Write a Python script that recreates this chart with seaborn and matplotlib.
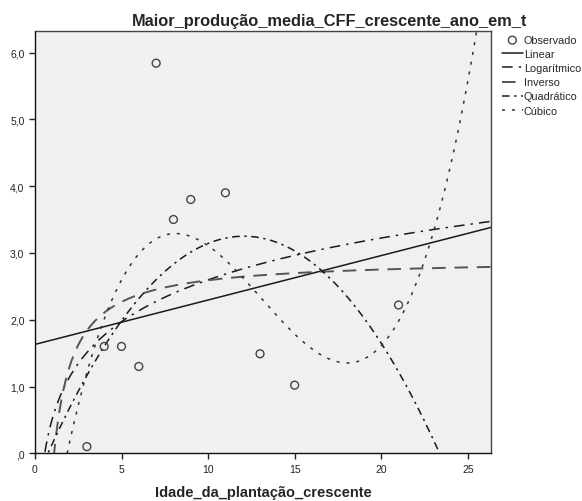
import numpy as np
import pandas as pd
import seaborn as sns
import matplotlib.pyplot as plt

# observed points
idade = [3, 4, 5, 6, 7, 8, 9, 11, 13, 15, 21]
producao = [0.10, 1.60, 1.60, 1.30, 5.84, 3.50, 3.80, 3.90, 1.49, 1.02, 2.22]

# fitted model coefficients
coef_linear = [1.63, 0.0665]            # b0 + b1*x
coef_log = [0.515, 0.904]               # b0 + b1*ln(x)
coef_inverso = [2.913, -3.23]           # b0 + b1/x
coef_quad = [-0.446, 0.6129, -0.02541]  # b0 + b1*x + b2*x^2
coef_cubico = [-2.738, 1.7471, -0.15604, 0.003978]

x_ticks = [0, 5, 10, 15, 20, 25]
y_ticks = [0, 1, 2, 3, 4, 5, 6]
y_tick_labels = [',0', '1,0', '2,0', '3,0', '4,0', '5,0', '6,0']

df = pd.DataFrame({'x': idade, 'y': producao})

xs = np.linspace(0.05, 26.4, 800)
curvas = {
    'Linear': coef_linear[0] + coef_linear[1] * xs,
    'Logarítmico': coef_log[0] + coef_log[1] * np.log(xs),
    'Inverso': coef_inverso[0] + coef_inverso[1] / xs,
    'Quadrático': np.polyval(coef_quad[::-1], xs),
    'Cúbico': np.polyval(coef_cubico[::-1], xs),
}
estilos = {
    'Linear': dict(color='#1a1a1a', lw=1.1, linestyle='-'),
    'Logarítmico': dict(color='#1a1a1a', lw=1.1, linestyle=(0, (7, 4, 1.5, 4))),
    'Inverso': dict(color='#555555', lw=1.4, linestyle=(0, (7, 4.5))),
    'Quadrático': dict(color='#1a1a1a', lw=1.1, linestyle=(0, (5, 3, 1.5, 3))),
    'Cúbico': dict(color='#333333', lw=1.1, linestyle=(0, (2, 4.5))),
}

sns.set_style('white')
plt.rcParams['font.family'] = ['Liberation Sans', 'DejaVu Sans']

fig = plt.figure(figsize=(5.82, 5.02), dpi=100)
ax = fig.add_axes([0.060, 0.095, 0.784, 0.841])
ax.set_facecolor('#f0f0f0')

sns.scatterplot(data=df, x='x', y='y', ax=ax, marker='o', s=32, facecolor='none',
                edgecolor='#444444', linewidth=1.0, label='Observado', zorder=5)
for nome, yv in curvas.items():
    sns.lineplot(x=xs, y=yv, ax=ax, label=nome, **estilos[nome])

ax.set_xlim(0, 26.35)
ax.set_ylim(0, 6.32)
ax.set_xticks(x_ticks)
ax.set_yticks(y_ticks)
ax.set_yticklabels(y_tick_labels)
ax.tick_params(direction='out', length=4, width=1, labelsize=7.5, colors='#222222',
               left=True, bottom=True)
for s in ax.spines.values():
    s.set_color('#444444')
    s.set_linewidth(1)
ax.spines['left'].set_color('#111111')
ax.spines['bottom'].set_color('#111111')

ax.set_xlabel('Idade_da_plantação_crescente', fontsize=10.5, fontweight='bold', labelpad=8)
ax.set_ylabel('')
fig.text(0.566, 0.958, 'Maior_produção_media_CFF_crescente_ano_em_t',
         ha='center', va='center', fontsize=11.8, fontweight='bold')

ax.legend(loc='upper left', bbox_to_anchor=(502 / 582, 1 - 36 / 502),
          bbox_transform=fig.transFigure, frameon=False, fontsize=7.8,
          handlelength=1.9, handletextpad=0.1, labelspacing=0.38,
          borderaxespad=0, borderpad=0)

fig.savefig('out.png', dpi=100)
